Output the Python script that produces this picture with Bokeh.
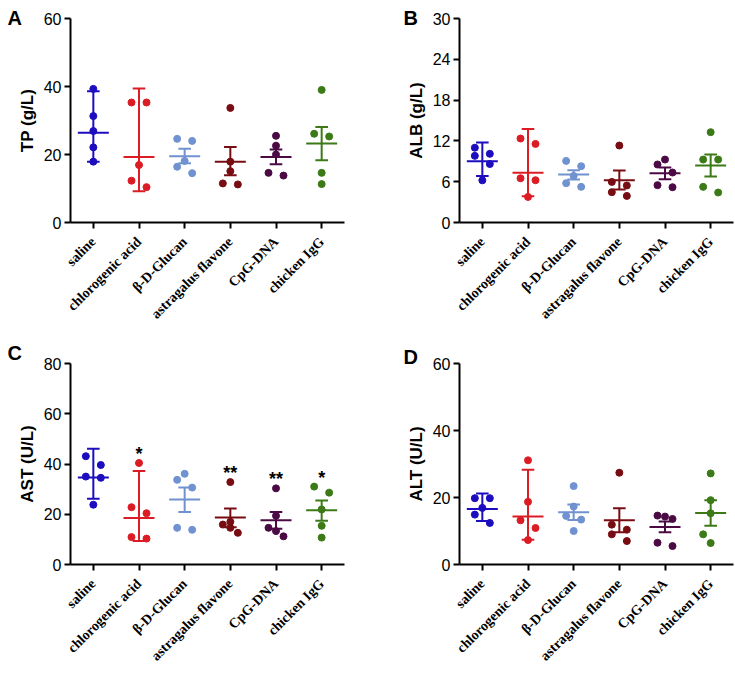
import math
import numpy as np
from bokeh.plotting import figure
from bokeh.models import Range1d, FixedTicker, Label
from bokeh.layouts import column, row
from bokeh.core.properties import value
from bokeh.embed import file_html
from bokeh.resources import INLINE

categories = ["saline", "chlorogenic acid", "\u03b2-D-Glucan", "astragalus flavone", "CpG-DNA", "chicken IgG"]
colors = ["#1c0dbf", "#dc1c24", "#7092d0", "#780c13", "#4b0a44", "#3c7a17"]

# --- A: TP (g/L) ---
tp_points = [[39.3, 31.3, 26.9, 22.1, 17.9],
             [35.3, 35.3, 16.9, 12.3, 10.4],
             [24.6, 24.0, 18.1, 16.4, 14.5],
             [33.7, 17.9, 15.1, 11.5, 11.2],
             [25.5, 22.6, 20.0, 14.6, 13.8],
             [39.0, 26.1, 25.3, 14.6, 11.3]]
tp_offsets = [[0, 0, 0, 0, 0], [-1, 1, 0, -1, 1], [-1, 1, 0, -1, 1],
              [0, 0, 0, -1, 1], [0, 0, 0, -1, 1], [0, -1, 1, 0, 0]]
tp_mean = [26.4, 19.3, 19.5, 17.9, 19.3, 23.2]
tp_hi = [38.6, 39.4, 21.7, 22.2, 21.5, 28.1]
tp_lo = [17.9, 9.2, 17.4, 13.9, 17.1, 18.3]

# --- B: ALB (g/L) ---
alb_points = [[11.0, 10.1, 9.8, 8.6, 6.2],
              [12.35, 11.56, 6.51, 6.22, 3.76],
              [9.06, 8.28, 6.85, 5.78, 5.24],
              [11.32, 5.97, 5.44, 4.46, 3.91],
              [9.26, 8.53, 7.35, 5.49, 5.19],
              [13.28, 9.26, 9.26, 5.24, 4.41]]
alb_offsets = [[-1, 1, -1, 1, 0], [-1, 1, -1, 1, 0], [-1, 1, 0, -1, 1],
               [0, -1, 1, -1, 1], [0, -1, 1, -1, 1], [0, -1, 1, -1, 1]]
alb_mean = [9.0, 7.3, 7.06, 6.22, 7.25, 8.38]
alb_hi = [11.76, 13.76, 7.69, 7.65, 8.09, 10.0]
alb_lo = [6.85, 3.87, 6.32, 4.85, 6.37, 6.76]

# --- C: AST (U/L) ---
ast_points = [[43.1, 39.6, 35.0, 34.5, 23.8],
              [40.4, 22.8, 20.4, 10.9, 10.3],
              [36.1, 33.7, 30.6, 14.6, 13.8],
              [32.8, 17.0, 15.9, 14.6, 12.6],
              [30.3, 19.4, 14.6, 13.3, 11.2],
              [31.0, 28.6, 21.9, 15.4, 10.7]]
ast_offsets = [[-1, 1, -1, 1, 0], [0, -1, 1, -1, 1], [0, -1, 1, -1, 1],
               [0, 0, -1, 0, 1], [0, 0, -1, 0, 1], [-1, 1, 0, 0, 0]]
ast_mean = [34.6, 18.5, 25.9, 18.75, 17.6, 21.6]
ast_hi = [46.1, 37.2, 30.6, 22.3, 20.9, 25.5]
ast_lo = [26.2, 9.4, 20.9, 14.8, 14.2, 17.4]
ast_sig = ["", "*", "", "**", "**", "*"]

# --- D: ALT (U/L) ---
alt_points = [[19.8, 19.8, 16.9, 14.9, 12.4],
              [31.1, 18.7, 13.2, 10.9, 7.3],
              [23.4, 17.3, 14.5, 13.4, 10.0],
              [27.4, 11.9, 10.4, 9.0, 7.0],
              [14.6, 14.3, 13.6, 6.5, 5.5],
              [27.2, 19.2, 15.3, 9.0, 6.4]]
alt_offsets = [[-1, 1, 0, -1, 1], [0, 0, -1, 1, 0], [0, 0, -1, 1, 0],
               [0, -1, 1, -1, 1], [-1, 0, 1, -1, 1], [0, 0, 0, -1, 0]]
alt_mean = [16.6, 14.3, 15.6, 13.2, 11.2, 15.4]
alt_hi = [21.2, 28.3, 17.9, 16.8, 12.8, 19.2]
alt_lo = [13.0, 7.4, 13.3, 9.6, 9.6, 11.6]

SANS = "Liberation Sans"
SERIF = "Liberation Serif"


def panel(letter, ylabel, ymax, ystep, pts, offs, mean, hi, lo,
          width, height, bl, br, bt, bb, letter_dx, letter_dy, sig=None):
    n = len(categories)
    fw = width - bl - br
    fh = height - bt - bb
    ppx = fw / n
    ppy = fh / ymax
    p = figure(width=width, height=height, x_range=Range1d(-0.5, n - 0.5),
               y_range=Range1d(0, ymax), output_backend="svg", toolbar_location=None,
               min_border_left=bl, min_border_right=br, min_border_top=bt,
               min_border_bottom=bb)
    p.outline_line_color = None
    p.xgrid.visible = False
    p.ygrid.visible = False
    p.background_fill_color = None
    p.border_fill_color = "white"

    # axes
    p.xaxis.ticker = FixedTicker(ticks=list(range(n)))
    p.xaxis.major_label_overrides = {i: c for i, c in enumerate(categories)}
    p.xaxis.major_label_orientation = math.pi / 4
    p.xaxis.major_label_text_font = SERIF
    p.xaxis.major_label_text_font_style = "bold"
    p.xaxis.major_label_text_font_size = "14px"
    p.xaxis.major_label_text_color = "black"
    p.xaxis.major_label_standoff = 11
    p.xaxis.minor_tick_line_color = None
    p.yaxis.ticker = FixedTicker(ticks=list(np.arange(0, ymax + 0.001, ystep)))
    p.yaxis.minor_tick_line_color = None
    p.yaxis.major_label_text_font = SANS
    p.yaxis.major_label_text_font_size = "16px"
    p.yaxis.major_label_text_color = "black"
    p.yaxis.major_label_standoff = 3
    p.yaxis.axis_label = ylabel
    p.yaxis.axis_label_text_font = SANS
    p.yaxis.axis_label_text_font_style = "bold"
    p.yaxis.axis_label_text_font_size = "17px"
    p.yaxis.axis_label_text_color = "black"
    p.yaxis.axis_label_standoff = 4
    for ax in (p.xaxis, p.yaxis):
        ax.axis_line_width = 2
        ax.axis_line_color = "black"
        ax.major_tick_line_width = 2
        ax.major_tick_line_color = "black"
        ax.major_tick_out = 6
        ax.major_tick_in = 0

    mw = 15.5 / ppx
    cw = 6.3 / ppx
    jw = 7.5 / ppx
    for i in range(n):
        c = colors[i]
        xs = [i + o * jw for o in offs[i]]
        p.segment(x0=[i], y0=[lo[i]], x1=[i], y1=[hi[i]], line_color=c, line_width=2)
        p.segment(x0=[i - cw, i - cw], y0=[lo[i], hi[i]], x1=[i + cw, i + cw],
                  y1=[lo[i], hi[i]], line_color=c, line_width=2)
        p.segment(x0=[i - mw], y0=[mean[i]], x1=[i + mw], y1=[mean[i]],
                  line_color=c, line_width=2)
        p.scatter(x=xs, y=pts[i], size=7, fill_color=c, line_color=c)

    if sig is not None:
        tops = [max(max(pts[i]), hi[i]) for i in range(n)]
        p.text(x=list(range(n)), y=tops, text=sig, text_font=value(SANS),
               text_font_style="bold", text_font_size="18px", text_align="center",
               text_baseline="alphabetic", y_offset=-9, text_color="black")

    lab = Label(x=-0.5 + letter_dx / ppx, y=ymax + letter_dy / ppy, text=letter,
                text_font=SANS, text_font_style="bold", text_font_size="20px",
                text_align="left", text_baseline="top", text_color="black")
    p.add_layout(lab, "left")
    return p


WA = 380
WB = 735 - WA
H1 = 340
H2 = 673 - H1
FW = 274

pA = panel("A", "TP (g/L)", 60, 20, tp_points, tp_offsets, tp_mean, tp_hi, tp_lo,
           WA, H1, 70, WA - 70 - FW, 18, H1 - 18 - 204, -63, 12)
pB = panel("B", "ALB (g/L)", 30, 6, alb_points, alb_offsets, alb_mean, alb_hi, alb_lo,
           WB, H1, 459 - WA, WB - (459 - WA) - FW, 18, H1 - 18 - 204, -56, 12)
pC = panel("C", "AST (U/L)", 80, 20, ast_points, ast_offsets, ast_mean, ast_hi, ast_lo,
           WA, H2, 70, WA - 70 - FW, 363 - H1, H2 - (363 - H1) - 204, -63, 22, sig=ast_sig)
pD = panel("D", "ALT (U/L)", 60, 20, alt_points, alt_offsets, alt_mean, alt_hi, alt_lo,
           WB, H2, 459 - WA, WB - (459 - WA) - FW, 359 - H1, H2 - (359 - H1) - 205, -56, 18)

layout = column(row(pA, pB), row(pC, pD))
open("out.html", "w").write(file_html(layout, INLINE))
